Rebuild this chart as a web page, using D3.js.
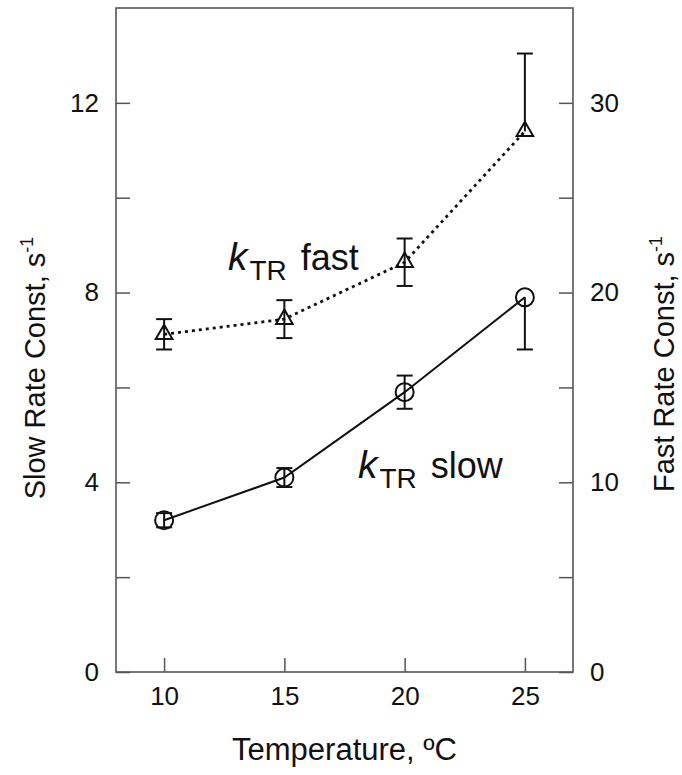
<!DOCTYPE html>
<html>
<head>
<meta charset="utf-8">
<script src="https://cdn.jsdelivr.net/npm/d3@7"></script>
<style>
  html, body { margin: 0; padding: 0; background: #fff; }
  svg { display: block; font-family: "Liberation Sans", Arial, sans-serif; }
</style>
</head>
<body>
<svg id="chart" width="682" height="775"></svg>
<script>
// ---- data ----
const temperatures = [10, 15, 20, 25];
const slowValues = [3.2, 4.1, 5.9, 7.9];
const slowErrLow = [0.15, 0.2, 0.35, 1.1];
const slowErrHigh = [0.15, 0.2, 0.35, 0];
const fastValues = [17.8, 18.6, 21.6, 28.5];
const fastErrLow = [0.8, 1.0, 1.25, 0];
const fastErrHigh = [0.8, 1.0, 1.25, 4.1];
const xTicks = [10, 15, 20, 25];
const leftTicks = [0, 2, 4, 6, 8, 10, 12];
const leftLabels = [0, 4, 8, 12];
const rightTicks = [0, 5, 10, 15, 20, 25, 30];
const rightLabels = [0, 10, 20, 30];

const svg = d3.select("#chart");
const L = 116, R = 573, T = 8, B = 672;
const x = d3.scaleLinear().domain([8, 27]).range([L, R]);
const yL = d3.scaleLinear().domain([0, 14]).range([B, T]);
const yR = d3.scaleLinear().domain([0, 35]).range([B, T]);

const axisColor = "#555";
const tickFont = 26;

// axes
const gx = svg.append("g").attr("transform", `translate(0,${B})`)
  .call(d3.axisBottom(x).tickValues(xTicks).tickSize(-14).tickPadding(15).tickSizeOuter(0));
const gl = svg.append("g").attr("transform", `translate(${L},0)`)
  .call(d3.axisLeft(yL).tickValues(leftTicks).tickSize(-14).tickPadding(17).tickSizeOuter(0)
    .tickFormat(d => leftLabels.includes(d) ? d : ""));
const gr = svg.append("g").attr("transform", `translate(${R},0)`)
  .call(d3.axisRight(yR).tickValues(rightTicks).tickSize(-14).tickPadding(17).tickSizeOuter(0)
    .tickFormat(d => rightLabels.includes(d) ? d : ""));
[gx, gl, gr].forEach(g => {
  g.select(".domain").remove();
  g.selectAll(".tick line").attr("stroke", axisColor).attr("stroke-width", 1.5);
  g.selectAll(".tick text").attr("font-size", tickFont).attr("fill", "#111")
    .attr("font-family", "Liberation Sans, Arial, sans-serif");
});

// frame
svg.append("rect").attr("x", L).attr("y", T).attr("width", R - L).attr("height", B - T)
  .attr("fill", "none").attr("stroke", axisColor).attr("stroke-width", 1.6);

// titles
svg.append("text").attr("x", x(17.5)).attr("y", 760).attr("text-anchor", "middle")
  .attr("font-size", 31).attr("fill", "#111").text("Temperature, ºC");

function rotTitle(cx, cy, label) {
  const t = svg.append("text").attr("transform", `translate(${cx},${cy}) rotate(-90)`)
    .attr("text-anchor", "middle").attr("font-size", 29).attr("fill", "#111");
  t.append("tspan").text(label);
  t.append("tspan").attr("font-size", 18).attr("dy", -12).text("-1");
}
rotTitle(45, 368, "Slow Rate Const, s");
rotTitle(674, 364, "Fast Rate Const, s");

// series data
const slow = temperatures.map((t, i) => ({ t, v: slowValues[i], lo: slowValues[i] - slowErrLow[i], hi: slowValues[i] + slowErrHigh[i] }));
const fast = temperatures.map((t, i) => ({ t, v: fastValues[i], lo: fastValues[i] - fastErrLow[i], hi: fastValues[i] + fastErrHigh[i] }));

// lines
svg.append("path").datum(fast)
  .attr("d", d3.line().x(d => x(d.t)).y(d => yR(d.v)))
  .attr("fill", "none").attr("stroke", "#111").attr("stroke-width", 2.8)
  .attr("stroke-dasharray", "3,4");
svg.append("path").datum(slow)
  .attr("d", d3.line().x(d => x(d.t)).y(d => yL(d.v)))
  .attr("fill", "none").attr("stroke", "#111").attr("stroke-width", 2);

// error bars
function errBars(data, y) {
  const cap = 8;
  const g = svg.append("g").attr("stroke", "#111").attr("stroke-width", 2);
  data.forEach(d => {
    g.append("line").attr("x1", x(d.t)).attr("x2", x(d.t)).attr("y1", y(d.lo)).attr("y2", y(d.hi));
    if (d.hi > d.v) g.append("line").attr("x1", x(d.t) - cap).attr("x2", x(d.t) + cap).attr("y1", y(d.hi)).attr("y2", y(d.hi));
    if (d.lo < d.v) g.append("line").attr("x1", x(d.t) - cap).attr("x2", x(d.t) + cap).attr("y1", y(d.lo)).attr("y2", y(d.lo));
  });
}
errBars(slow, yL);
errBars(fast, yR);

// markers
svg.append("g").selectAll("circle").data(slow).join("circle")
  .attr("cx", d => x(d.t)).attr("cy", d => yL(d.v)).attr("r", 9)
  .attr("fill", "none").attr("stroke", "#111").attr("stroke-width", 2);
const tri = d3.symbol().type(d3.symbolTriangle).size(120);
svg.append("g").selectAll("path").data(fast).join("path")
  .attr("transform", d => `translate(${x(d.t)},${yR(d.v)})`)
  .attr("d", tri()).attr("fill", "none").attr("stroke", "#111").attr("stroke-width", 2);

// series labels
function seriesLabel(px, py, word) {
  const t = svg.append("text").attr("x", px).attr("y", py).attr("fill", "#111");
  t.append("tspan").attr("font-size", 39).attr("font-style", "italic").text("k");
  t.append("tspan").attr("font-size", 28).attr("dy", 10).attr("dx", 2).text("TR");
  t.append("tspan").attr("font-size", 36).attr("dy", -10).attr("dx", 14).text(word);
}
seriesLabel(228, 270, "fast");
seriesLabel(358, 478, "slow");
</script>
</body>
</html>
